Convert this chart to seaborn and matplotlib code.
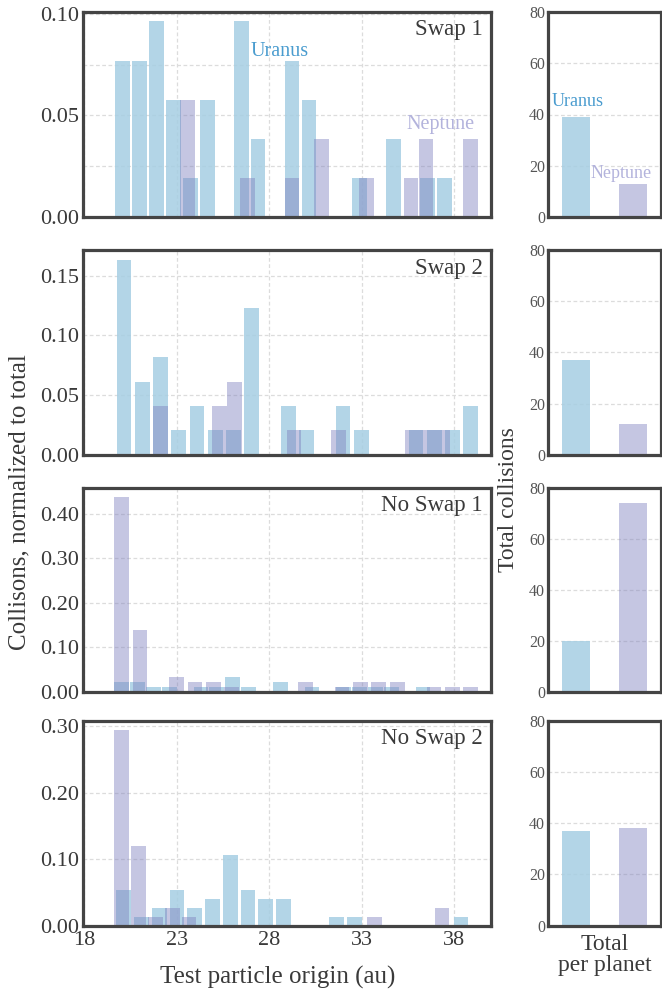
import numpy as np
import pandas as pd
import matplotlib
matplotlib.use("Agg")
import matplotlib.pyplot as plt
import seaborn as sns
from matplotlib.ticker import FixedLocator, FormatStrFormatter

# ---------------- data ----------------
panels = ["Swap 1", "Swap 2", "No Swap 1", "No Swap 2"]
planets = ["Uranus", "Neptune"]

# 20-bin histograms of test particle origin (au): bin range per planet and panel
uranus_range = [(19.60, 37.94), (19.65, 39.40), (19.58, 36.75), (19.64, 38.86)]
neptune_range = [(23.18, 39.30), (21.70, 37.78), (19.51, 39.40), (19.55, 37.80)]

uranus_counts = [
    [4, 4, 5, 3, 1, 3, 0, 5, 2, 0, 4, 3, 0, 0, 1, 0, 2, 0, 1, 1],
    [8, 3, 4, 1, 2, 1, 1, 6, 0, 2, 1, 0, 2, 1, 0, 0, 1, 1, 1, 2],
    [2, 2, 1, 1, 0, 1, 1, 3, 1, 0, 2, 0, 1, 0, 1, 1, 1, 1, 0, 1],
    [4, 1, 2, 4, 2, 3, 8, 4, 3, 3, 0, 0, 1, 1, 0, 0, 0, 0, 0, 1],
]
neptune_counts = [
    [3, 0, 0, 0, 1, 0, 0, 1, 0, 2, 0, 0, 1, 0, 0, 1, 2, 0, 0, 2],
    [2, 0, 0, 0, 2, 3, 0, 0, 0, 1, 0, 0, 1, 0, 0, 0, 0, 1, 1, 1],
    [41, 13, 0, 3, 2, 2, 1, 0, 0, 0, 2, 0, 1, 2, 2, 2, 0, 1, 1, 1],
    [22, 9, 1, 2, 1, 0, 0, 0, 0, 0, 0, 0, 0, 0, 0, 1, 0, 0, 0, 2],
]

# totals per planet (right column)
uranus_total = [39, 37, 20, 37]
neptune_total = [13, 12, 74, 38]

left_yticks = [[0.0, 0.05, 0.10], [0.0, 0.05, 0.10, 0.15],
               [0.0, 0.10, 0.20, 0.30, 0.40], [0.0, 0.10, 0.20, 0.30]]
left_yminor = [[0.025, 0.075], [], [], []]
x_ticks = [18, 23, 28, 33, 38]
right_yticks = [0, 20, 40, 60, 80]

# ---------------- style ----------------
sns.set_style("white")
plt.rcParams["font.family"] = ["Liberation Serif", "DejaVu Serif"]

U_COLOR = "#a6cee3"
U_ALPHA = 0.85
N_COLOR = "#7f81bf"
N_ALPHA = 0.45
SPINE = "#444444"
GRID = "#dcdcdc"
TXT = "#3a3a3a"
NBINS = 20
BAR_W = 0.8  # au
GRID_LS = (0, (3, 2))

fig = plt.figure(figsize=(6.62, 9.89), dpi=100)
W, H = 662.0, 989.0

rows_px = [(11.7, 217.3), (250.0, 454.7), (487.7, 691.7), (720.7, 925.7)]
left_x = (83.0, 491.0)
right_x = (548.0, 661.0)


def style_axes(ax):
    for s in ax.spines.values():
        s.set_visible(True)
        s.set_color(SPINE)
        s.set_linewidth(2.3)
    ax.set_axisbelow(True)


def draw_hist(ax, rng, counts, total, color, alpha):
    lo, hi = rng
    step = (hi - lo) / NBINS
    centers = np.linspace(lo + step / 2, hi - step / 2, NBINS)
    frac = np.asarray(counts, dtype=float) / total
    df = pd.DataFrame({"origin": centers, "frac": frac})
    sns.histplot(data=df, x="origin", weights="frac", bins=NBINS, binrange=(lo, hi),
                 shrink=BAR_W / step, color=color, alpha=alpha,
                 edgecolor="none", linewidth=0, ax=ax)


for i, name in enumerate(panels):
    top, bot = rows_px[i]
    ax = fig.add_axes([left_x[0] / W, 1 - bot / H, (left_x[1] - left_x[0]) / W, (bot - top) / H])
    style_axes(ax)
    total = uranus_total[i] + neptune_total[i]
    draw_hist(ax, uranus_range[i], uranus_counts[i], total, U_COLOR, U_ALPHA)
    draw_hist(ax, neptune_range[i], neptune_counts[i], total, N_COLOR, N_ALPHA)

    ymax = max(max(uranus_counts[i]), max(neptune_counts[i])) / total
    ax.set_ylim(0, ymax * 1.05)
    ax.set_xlim(17.92, 40.0)
    ax.xaxis.set_major_locator(FixedLocator(x_ticks))
    ax.yaxis.set_major_locator(FixedLocator(left_yticks[i]))
    ax.yaxis.set_minor_locator(FixedLocator(left_yminor[i]))
    ax.yaxis.set_major_formatter(FormatStrFormatter("%.2f"))
    ax.grid(True, which="both", axis="both", color=GRID, lw=0.9, ls=GRID_LS)
    ax.tick_params(axis="x", which="major", direction="in", length=8, width=2.2,
                   color=SPINE, labelsize=16, labelcolor=TXT, pad=4,
                   labelbottom=(i == 3))
    ax.tick_params(axis="y", which="major", direction="in", length=9, width=1.6,
                   color=SPINE, labelsize=16, labelcolor=TXT, pad=3)
    ax.tick_params(axis="y", which="minor", direction="in", length=6, width=1.0,
                   color=SPINE)
    ax.set_xlabel("")
    ax.set_ylabel("")
    ax.text(0.98, 0.885, name, transform=ax.transAxes, ha="right", va="baseline",
            fontsize=16.5, color=TXT)
    if i == 0:
        ax.text(27.0, 0.0815, "Uranus", color="#4a9ccf", fontsize=14.5,
                ha="left", va="center")
        ax.text(35.4, 0.0457, "Neptune", color="#b3b3dc", fontsize=14.5,
                ha="left", va="center")

    # right column: totals per planet
    axr = fig.add_axes([right_x[0] / W, 1 - bot / H, (right_x[1] - right_x[0]) / W, (bot - top) / H])
    style_axes(axr)
    tot = pd.DataFrame({"planet": planets, "total": [uranus_total[i], neptune_total[i]]})
    sns.barplot(data=tot, x="planet", y="total", hue="planet",
                palette=[U_COLOR, N_COLOR], width=0.5, saturation=1,
                legend=False, ax=axr)
    for p, a in zip(axr.patches, [U_ALPHA, N_ALPHA]):
        p.set_alpha(a)
        p.set_edgecolor("none")
    axr.set_xlim(-0.5, 1.5)
    axr.set_ylim(0, 80)
    axr.set_yticks(right_yticks)
    axr.set_xticks([])
    axr.grid(True, axis="y", color=GRID, lw=0.9, ls=GRID_LS)
    axr.tick_params(axis="y", direction="in", length=0, labelsize=11.5,
                    labelcolor="#555555", pad=2)
    axr.set_ylabel("")
    axr.set_xlabel("")
    if i == 0:
        axr.text(-0.43, 45, "Uranus", color="#4a9ccf", fontsize=13,
                 ha="left", va="center")
        axr.text(0.25, 16.9, "Neptune", color="#b3b3dc", fontsize=13,
                 ha="left", va="center", clip_on=False)
    if i == 3:
        axr.set_xlabel("Total\nper planet", fontsize=17, color=TXT, labelpad=6,
                       linespacing=1.0)

fig.text(19 / W, 1 - 502 / H, "Collisons, normalized to total", rotation=90,
         ha="center", va="center", fontsize=18, color=TXT)
fig.text(508 / W, 1 - 500 / H, "Total collisions", rotation=90,
         ha="center", va="center", fontsize=17, color=TXT)
fig.text(277.5 / W, 5 / H, "Test particle origin (au)", ha="center",
         va="baseline", fontsize=18, color=TXT)

fig.savefig("out.png", dpi=100)
